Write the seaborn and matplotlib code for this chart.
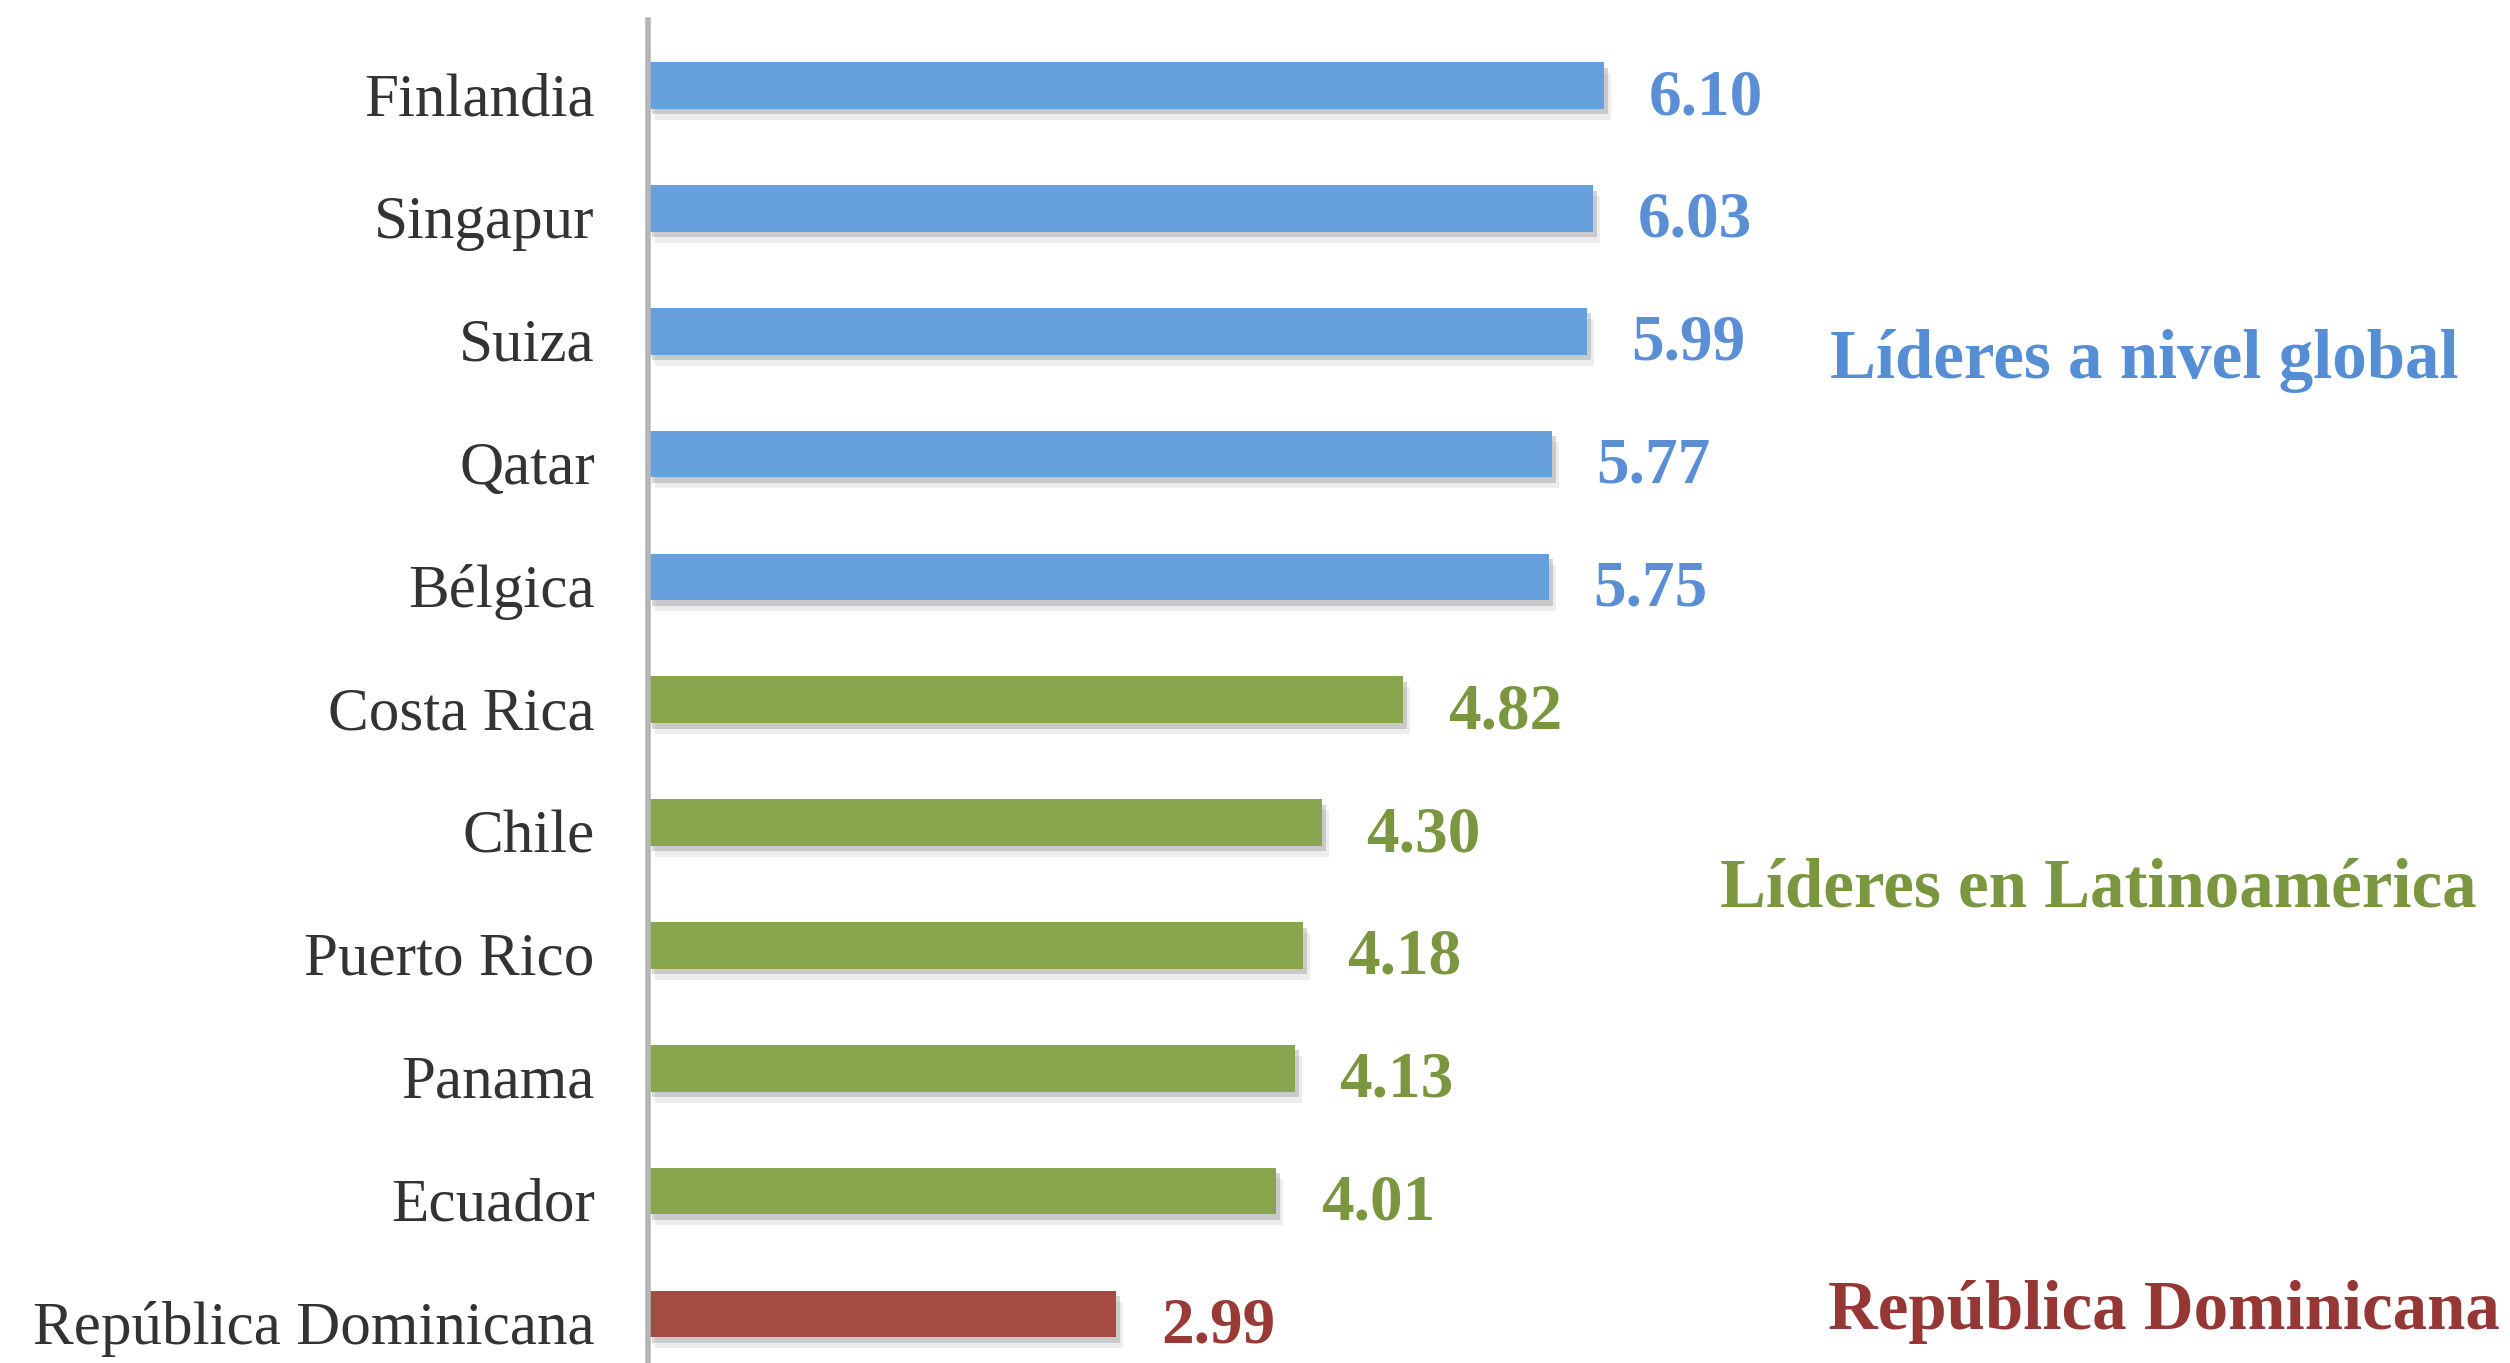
import pandas as pd
import seaborn as sns
import matplotlib.pyplot as plt
import matplotlib.patheffects as pe
from matplotlib.transforms import ScaledTranslation

# datos
paises = ['Finlandia', 'Singapur', 'Suiza', 'Qatar', 'Bélgica', 'Costa Rica', 'Chile',
          'Puerto Rico', 'Panama', 'Ecuador', 'República Dominicana']
valores = [6.10, 6.03, 5.99, 5.77, 5.75, 4.82, 4.30, 4.18, 4.13, 4.01, 2.99]
grupos = ['global'] * 5 + ['latam'] * 5 + ['rd']
etiquetas_grupo = {'global': 'Líderes a nivel global',
                   'latam': 'Líderes en Latinoamérica',
                   'rd': 'República Dominicana'}

df = pd.DataFrame({'pais': paises, 'valor': valores, 'grupo': grupos})

color_barra = {'global': '#659fdc', 'latam': '#89a54e', 'rd': '#a64a44'}
color_texto = {'global': '#5a8fd6', 'latam': '#7a963e', 'rd': '#9a3a36'}

sns.set_style('white')
plt.rcParams['font.family'] = ['Liberation Serif', 'DejaVu Serif']

fig = plt.figure(figsize=(12.55, 6.815), dpi=200)
ax = fig.add_axes([0.258, 0.0, 0.742, 0.985])

sns.barplot(data=df, x='valor', y='pais', hue='grupo', palette=color_barra,
            dodge=False, legend=False, width=0.38, saturation=1, ax=ax)

# sombra bajo las barras
sombra = [pe.SimplePatchShadow(offset=(1.5, -2.0), shadow_rgbFace='#888888', alpha=0.35),
          pe.SimplePatchShadow(offset=(2.5, -4.0), shadow_rgbFace='#888888', alpha=0.15),
          pe.Normal()]
for p in ax.patches:
    p.set_path_effects(sombra)
    p.set_edgecolor('none')

# etiquetas de valor
for cont, g in zip(ax.containers, ['global', 'latam', 'rd']):
    anns = ax.bar_label(cont, fmt='%.2f', padding=16, color=color_texto[g],
                        fontsize=23.5, fontweight='bold')
    for a in anns:
        a.xyann = (16, -4.5)

ax.set_xlim(0, 11.88)
ax.set_ylim(10.4, -0.53)
ax.set_xlabel('')
ax.set_ylabel('')
ax.set_xticks([])
ax.tick_params(axis='y', length=0, pad=19, labelsize=22, labelcolor='#333333')
for lab in ax.get_yticklabels():
    lab.set_transform(lab.get_transform() + ScaledTranslation(0, -3 / 72, fig.dpi_scale_trans))

for s in ['top', 'right', 'bottom']:
    ax.spines[s].set_visible(False)
ax.spines['left'].set_color('#b5b5b5')
ax.spines['left'].set_linewidth(2.0)

# etiquetas de grupo
trans = ax.get_yaxis_transform()
ax.text(0.635, 2.38, etiquetas_grupo['global'], transform=trans, color='#558ed5',
        fontsize=24.8, fontweight='bold', va='baseline', ha='left')
ax.text(0.576, 6.68, etiquetas_grupo['latam'], transform=trans, color='#7a963e',
        fontsize=24.8, fontweight='bold', va='baseline', ha='left')
ax.text(0.634, 10.12, etiquetas_grupo['rd'], transform=trans, color='#953735',
        fontsize=24.8, fontweight='bold', va='baseline', ha='left')

fig.savefig('out.png', dpi=200, facecolor='white')
